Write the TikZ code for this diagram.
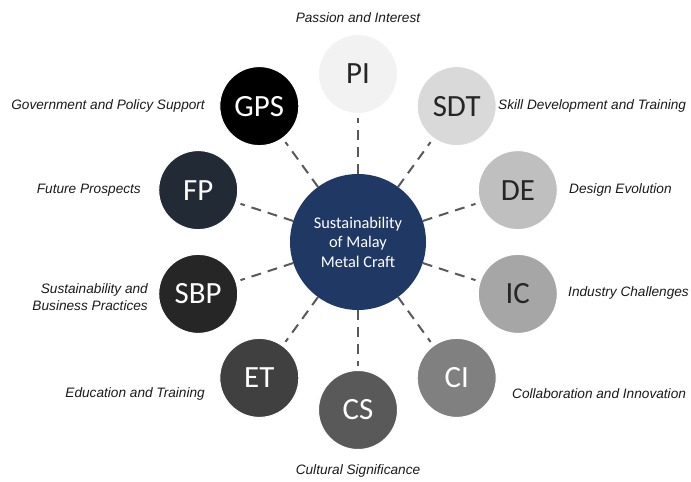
\documentclass[tikz,border=0pt]{standalone}
\usepackage{fontspec}
\setmainfont{Liberation Sans}
\newfontfamily\circfont{Carlito}
\definecolor{hubblue}{HTML}{1F3864}
\definecolor{linegray}{HTML}{595959}
\definecolor{labelgray}{HTML}{1A1A1A}
\definecolor{darktext}{HTML}{262626}
\begin{document}
\begin{tikzpicture}[x=1bp,y=-1bp,
  hub/.style={circle, fill=hubblue, minimum size=136bp, inner sep=0pt, outer sep=0pt,
    text=white, align=center, font=\circfont\fontsize{16.4}{19.5}\selectfont},
  spoke/.style={circle, minimum size=79bp, inner sep=0pt, outer sep=0pt,
    draw=white, line width=1bp, font=\circfont\fontsize{31}{31}\selectfont},
  lightspoke/.style={spoke, text=darktext},
  darkspoke/.style={spoke, text=white},
  tag/.style={font=\itshape\fontsize{13.7}{17}\selectfont, text=labelgray, inner sep=0pt},
  link/.style={draw=linegray, line width=2bp, dash pattern=on 10bp off 7bp, shorten >=5bp}
]
\useasboundingbox (0,0) rectangle (691,482);

% central concept
\node[hub] (hub) at (358,242) {Sustainability\\of Malay\\Metal Craft};

% ring of factors
\node[lightspoke, fill={rgb,255:red,242;green,242;blue,242}] (pi)  at (358,74)      {PI};
\node[lightspoke, fill={rgb,255:red,217;green,217;blue,217}] (sdt) at (456.7,106.1) {SDT};
\node[lightspoke, fill={rgb,255:red,191;green,191;blue,191}] (de)  at (517.8,190.1) {DE};
\node[lightspoke, fill={rgb,255:red,166;green,166;blue,166}] (ic)  at (517.8,293.9) {IC};
\node[darkspoke,  fill={rgb,255:red,128;green,128;blue,128}] (ci)  at (456.7,377.9) {CI};
\node[darkspoke,  fill={rgb,255:red,89;green,89;blue,89}]    (cs)  at (358,410)     {CS};
\node[darkspoke,  fill={rgb,255:red,64;green,64;blue,64}]    (et)  at (259.3,377.9) {ET};
\node[darkspoke,  fill={rgb,255:red,38;green,38;blue,38}]    (sbp) at (198.2,293.9) {SBP};
\node[darkspoke,  fill={rgb,255:red,34;green,42;blue,53}]    (fp)  at (198.2,190.1) {FP};
\node[darkspoke,  fill=black]                                (gps) at (259.3,106.1) {GPS};

% dashed spokes
\foreach \n in {pi,sdt,de,ic,ci,cs,et,sbp,fp,gps}
  \draw[link] (hub) -- (\n);

% factor names
\node[tag] (tpi)  at (358,18)              {Passion and Interest};
\node[tag, anchor=west] (tsdt) at (498,106) {Skill Development and Training};
\node[tag, anchor=west] (tde)  at (569,190) {Design Evolution};
\node[tag, anchor=west] (tic)  at (568,293) {Industry Challenges};
\node[tag, anchor=west] (tci)  at (512,394) {Collaboration and Innovation};
\node[tag] (tcs)  at (358,471)              {Cultural Significance};
\node[tag, anchor=east] (tet)  at (205,394) {Education and Training};
\node[tag, anchor=east, align=right] (tsbp) at (148,297.5) {Sustainability and\\Business Practices};
\node[tag, anchor=east] (tfp)  at (141,190) {Future Prospects};
\node[tag, anchor=east] (tgps) at (205,106) {Government and Policy Support};
\end{tikzpicture}
\end{document}
